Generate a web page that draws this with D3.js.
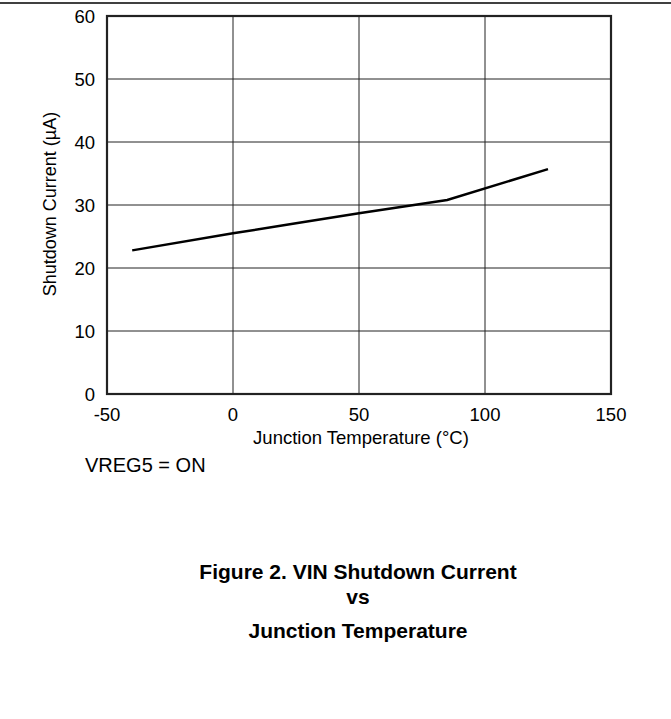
<!DOCTYPE html>
<html><head><meta charset="utf-8">
<script src="https://cdn.jsdelivr.net/npm/d3@7"></script>
<style>body{margin:0;background:#fff;} text{font-family:"Liberation Sans",Arial,sans-serif;fill:#000;}</style>
</head><body>
<script>
const temps = [-40, 0, 25, 50, 85, 125];
const current = [22.8, 25.5, 27.1, 28.7, 30.8, 35.7];
const xTicks = [-50, 0, 50, 100, 150];
const yTicks = [0, 10, 20, 30, 40, 50, 60];
const xTitle = "Junction Temperature (°C)";
const yTitle = "Shutdown Current (µA)";
const note = "VREG5 = ON";
const caption = ["Figure 2. VIN Shutdown Current", "vs", "Junction Temperature"];

const W = 671, H = 719;
const svg = d3.select("body").append("svg").attr("width", W).attr("height", H);
svg.append("line").attr("x1",0).attr("x2",W).attr("y1",3).attr("y2",3).attr("stroke","#000").attr("stroke-width",1.5);

const m = {l:107, r:611, t:16, b:394};
const x = d3.scaleLinear().domain([-50,150]).range([m.l,m.r]);
const y = d3.scaleLinear().domain([0,60]).range([m.b,m.t]);

const g = svg.append("g");
g.selectAll(".vg").data(xTicks.slice(1,-1)).join("line")
 .attr("x1",d=>x(d)).attr("x2",d=>x(d)).attr("y1",m.t).attr("y2",m.b).attr("stroke","#222").attr("stroke-width",1);
g.selectAll(".hg").data(yTicks.slice(1,-1)).join("line")
 .attr("y1",d=>y(d)).attr("y2",d=>y(d)).attr("x1",m.l).attr("x2",m.r).attr("stroke","#222").attr("stroke-width",1);
g.append("rect").attr("x",m.l).attr("y",m.t).attr("width",m.r-m.l).attr("height",m.b-m.t)
 .attr("fill","none").attr("stroke","#222").attr("stroke-width",2.2);

g.selectAll(".xl").data(xTicks).join("text").attr("x",d=>x(d)).attr("y",421)
 .attr("text-anchor","middle").attr("font-size",18.5).text(d=>d);
g.selectAll(".yl").data(yTicks).join("text").attr("x",m.l-12).attr("y",d=>y(d)+7)
 .attr("text-anchor","end").attr("font-size",18.5).text(d=>d);

const line = d3.line().x(d=>x(d[0])).y(d=>y(d[1]));
g.append("path").datum(temps.map((t,i)=>[t,current[i]])).attr("d",line)
 .attr("fill","none").attr("stroke","#000").attr("stroke-width",2.5);

svg.append("text").attr("x",361).attr("y",444).attr("text-anchor","middle").attr("font-size",18.5).text(xTitle);
svg.append("text").attr("transform",`translate(56,204) rotate(-90)`).attr("text-anchor","middle").attr("font-size",18).text(yTitle);
svg.append("text").attr("x",85).attr("y",472).attr("font-size",20).text(note);
const capY = [579, 604, 638];
svg.selectAll(".cap").data(caption).join("text").attr("x",358).attr("y",(d,i)=>capY[i])
 .attr("text-anchor","middle").attr("font-size",21).attr("font-weight","bold").text(d=>d);
</script>
</body></html>
